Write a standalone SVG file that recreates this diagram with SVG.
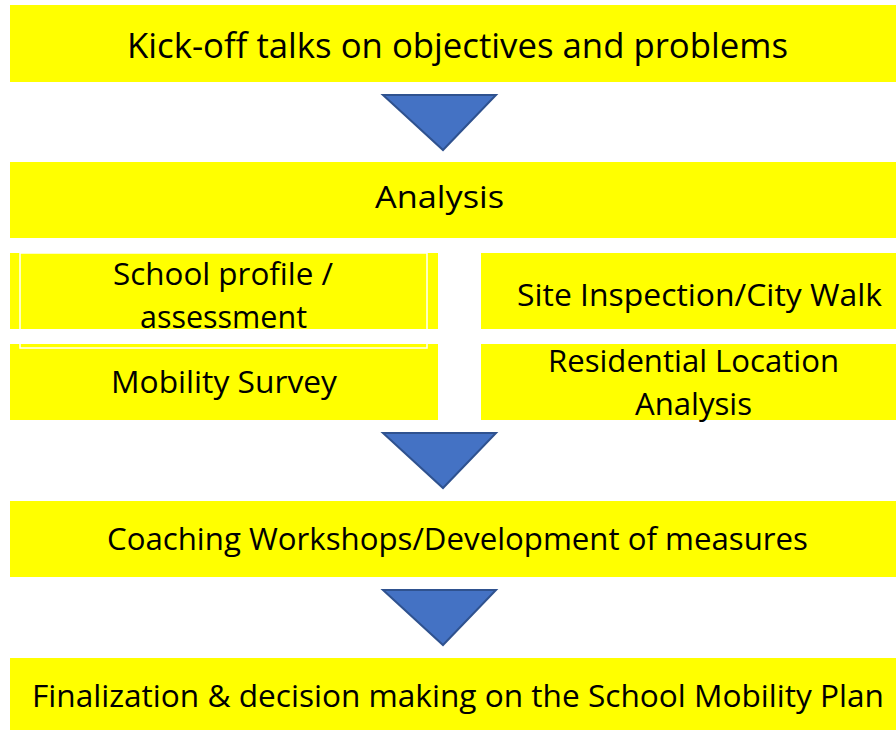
<svg xmlns="http://www.w3.org/2000/svg" width="896" height="730" viewBox="0 0 896 730">
  <style>
    .box { fill: #FFFF00; }
    .lbl { font-family: "Open Sans", "Noto Sans", "Liberation Sans", sans-serif; font-size: 31px; fill: #000000; }
    .big { font-size: 35px; }
    .arrow { fill: #4472C4; stroke: #2F528F; stroke-width: 2; stroke-linejoin: miter; }
  </style>
  <rect width="896" height="730" fill="#FFFFFF"/>

  <g id="kickoff">
    <rect class="box" x="10" y="5" width="886" height="77"/>
    <text class="lbl big" x="127" y="58" textLength="661" lengthAdjust="spacingAndGlyphs">Kick-off talks on objectives and problems</text>
  </g>

  <g id="analysis">
    <rect class="box" x="10" y="162" width="886" height="76"/>
    <text class="lbl" x="375" y="208" textLength="129" lengthAdjust="spacingAndGlyphs">Analysis</text>
  </g>

  <g id="school-profile">
    <rect class="box" x="10" y="253" width="428" height="76"/>
    <text class="lbl" x="113" y="285" textLength="220" lengthAdjust="spacingAndGlyphs">School profile /</text>
    <text class="lbl" x="140" y="328" textLength="167" lengthAdjust="spacingAndGlyphs">assessment</text>
  </g>

  <g id="mobility-survey">
    <rect class="box" x="10" y="344" width="428" height="76"/>
    <text class="lbl" x="111" y="393" textLength="226" lengthAdjust="spacingAndGlyphs">Mobility Survey</text>
  </g>

  <!-- thin white frame over the left analysis boxes -->
  <rect x="20" y="253" width="407" height="95" fill="none" stroke="#FFFFFF" stroke-width="1.5"/>

  <g id="site-inspection">
    <rect class="box" x="481" y="253" width="415" height="76"/>
    <text class="lbl" x="517" y="306" textLength="365" lengthAdjust="spacingAndGlyphs">Site Inspection/City Walk</text>
  </g>

  <g id="residential-location">
    <rect class="box" x="481" y="344" width="415" height="76"/>
    <text class="lbl" x="548" y="372" textLength="291" lengthAdjust="spacingAndGlyphs">Residential Location</text>
    <text class="lbl" x="635" y="415" textLength="117" lengthAdjust="spacingAndGlyphs">Analysis</text>
  </g>

  <g id="coaching">
    <rect class="box" x="10" y="501" width="886" height="76"/>
    <text class="lbl" x="107" y="550" textLength="701" lengthAdjust="spacingAndGlyphs">Coaching Workshops/Development of measures</text>
  </g>

  <g id="finalization">
    <rect class="box" x="10" y="658" width="886" height="72"/>
    <text class="lbl" x="32" y="707" textLength="852" lengthAdjust="spacingAndGlyphs">Finalization &amp; decision making on the School Mobility Plan</text>
  </g>

  <g id="connectors">
    <polygon class="arrow" points="383,95 496,95 443,150"/>
    <polygon class="arrow" points="383,433 496,433 443,488"/>
    <polygon class="arrow" points="383,590 496,590 443,645"/>
  </g>
</svg>
